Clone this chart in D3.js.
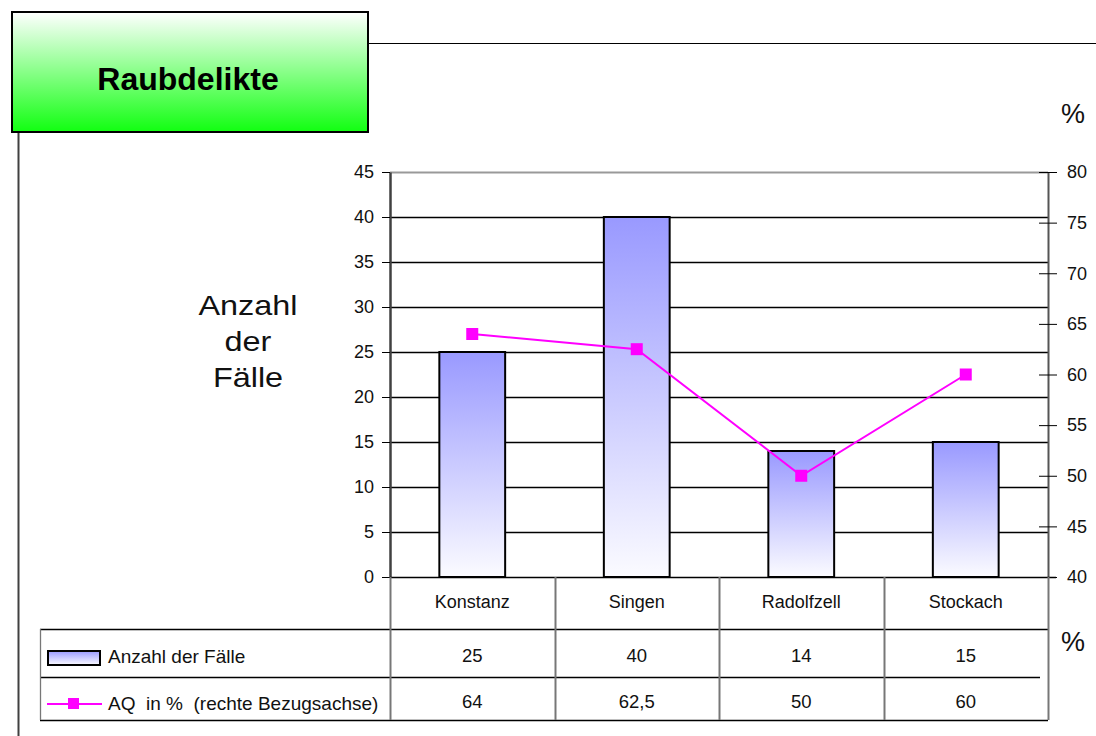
<!DOCTYPE html>
<html>
<head>
<meta charset="utf-8">
<script src="https://cdn.jsdelivr.net/npm/d3@7"></script>
<style>
  body { margin: 0; background: #fff; }
  svg text { font-family: "Liberation Sans", Arial, sans-serif; }
</style>
</head>
<body>
<div class="chart"></div>
<script>
var categories = ["Konstanz", "Singen", "Radolfzell", "Stockach"];
var faelle = [25, 40, 14, 15];
var aq = [64, 62.5, 50, 60];
var aqLabels = ["64", "62,5", "50", "60"];
var leftTicks = [0, 5, 10, 15, 20, 25, 30, 35, 40, 45];
var rightTicks = [40, 45, 50, 55, 60, 65, 70, 75, 80];

var width = 1096, height = 736;
var plot = {left: 390, right: 1048, top: 172, bottom: 577};

var svg = d3.select(".chart").append("svg").attr("width", width).attr("height", height);

var defs = svg.append("defs");
var barGrad = defs.append("linearGradient").attr("id", "barGrad").attr("x1", 0).attr("y1", 0).attr("x2", 0).attr("y2", 1);
barGrad.append("stop").attr("offset", "0%").attr("stop-color", "#9999ff");
barGrad.append("stop").attr("offset", "100%").attr("stop-color", "#fbfbff");
var titleGrad = defs.append("linearGradient").attr("id", "titleGrad").attr("x1", 0).attr("y1", 0).attr("x2", 0).attr("y2", 1);
titleGrad.append("stop").attr("offset", "0%").attr("stop-color", "#ffffff");
titleGrad.append("stop").attr("offset", "100%").attr("stop-color", "#11ff11");

//scales
var x = d3.scaleBand().domain(categories).range([plot.left, plot.right]).padding(0);
var yL = d3.scaleLinear().domain([0, 45]).range([plot.bottom, plot.top]);
var yR = d3.scaleLinear().domain([40, 80]).range([plot.bottom, plot.top]);

//frame lines (title line and left vertical)
svg.append("line").attr("x1", 368).attr("x2", width).attr("y1", 43.5).attr("y2", 43.5).attr("stroke", "#000");
svg.append("line").attr("x1", 18.5).attr("x2", 18.5).attr("y1", 132).attr("y2", height).attr("stroke", "#404040").attr("stroke-width", 2);

//title box
svg.append("rect").attr("x", 12).attr("y", 12).attr("width", 356).attr("height", 120)
  .attr("fill", "url(#titleGrad)").attr("stroke", "#000").attr("stroke-width", 2);
svg.append("text").attr("x", 188).attr("y", 90).attr("text-anchor", "middle")
  .style("font-weight", "bold").style("font-size", "32px")
  .text("Raubdelikte");

//gridlines
svg.append("g").selectAll("line").data(leftTicks.filter(function(d){ return d > 0; })).enter().append("line")
  .attr("x1", plot.left).attr("x2", plot.right)
  .attr("y1", function(d){ return Math.round(yL(d)) + 0.5; }).attr("y2", function(d){ return Math.round(yL(d)) + 0.5; })
  .attr("stroke", function(d){ return d == 45 ? "#999" : "#000"; }).attr("stroke-width", function(d){ return d == 45 ? 2 : 1.3; });

//bars
var barW = x.bandwidth() * 0.4;
svg.append("g").selectAll("rect").data(faelle).enter().append("rect")
  .attr("x", function(d, i){ return x(categories[i]) + (x.bandwidth() - barW) / 2; })
  .attr("y", function(d){ return yL(d); })
  .attr("width", barW)
  .attr("height", function(d){ return yL(0) - yL(d); })
  .attr("fill", "url(#barGrad)").attr("stroke", "#000").attr("stroke-width", 2);

//left axis
var leftAxis = d3.axisLeft(yL).tickValues(leftTicks).tickSizeInner(8).tickSizeOuter(0).tickPadding(8);
var gL = svg.append("g").attr("transform", "translate(" + plot.left + ",0)").call(leftAxis);
gL.select(".domain").attr("stroke", "#404040").attr("stroke-width", 2.5);
gL.selectAll("text").style("font-size", "18px").attr("fill", "#111");

//right axis
var rightAxis = d3.axisRight(yR).tickValues(rightTicks).tickSizeInner(9).tickSizeOuter(0).tickPadding(10);
var gR = svg.append("g").attr("transform", "translate(" + plot.right + ",0)").call(rightAxis);
gR.select(".domain").attr("stroke", "#555").attr("stroke-width", 2);
gR.selectAll(".tick line").attr("x1", -9);
gR.selectAll("text").style("font-size", "18px").attr("fill", "#111");

//baseline
svg.append("line").attr("x1", plot.left).attr("x2", plot.right + 8).attr("y1", plot.bottom + 0.5).attr("y2", plot.bottom + 0.5)
  .attr("stroke", "#000").attr("stroke-width", 1.5);

//AQ line
var line = d3.line()
  .x(function(d, i){ return x(categories[i]) + x.bandwidth() / 2; })
  .y(function(d){ return yR(d); });
svg.append("path").attr("d", line(aq)).attr("fill", "none").attr("stroke", "#ff00ff").attr("stroke-width", 2);
svg.append("g").selectAll("rect").data(aq).enter().append("rect")
  .attr("x", function(d, i){ return x(categories[i]) + x.bandwidth() / 2 - 6; })
  .attr("y", function(d){ return yR(d) - 6; })
  .attr("width", 12).attr("height", 12).attr("fill", "#ff00ff");

//data table
var tbl = svg.append("g");
// horizontal lines
tbl.append("line").attr("x1", 40).attr("x2", plot.right).attr("y1", 629.5).attr("y2", 629.5).attr("stroke", "#000").attr("stroke-width", 1.3);
tbl.append("line").attr("x1", 40).attr("x2", 1040).attr("y1", 677.5).attr("y2", 677.5).attr("stroke", "#000").attr("stroke-width", 1.3);
tbl.append("line").attr("x1", 40).attr("x2", plot.right).attr("y1", 720.5).attr("y2", 720.5).attr("stroke", "#000").attr("stroke-width", 1.3);
// vertical lines
tbl.append("line").attr("x1", 40.5).attr("x2", 40.5).attr("y1", 629).attr("y2", 720).attr("stroke", "#777").attr("stroke-width", 1.3);
tbl.selectAll(".vline").data(categories.concat(["end"])).enter().append("line")
  .attr("x1", function(d, i){ return i < 4 ? Math.round(x(d)) + 0.5 : plot.right + 0.5; })
  .attr("x2", function(d, i){ return i < 4 ? Math.round(x(d)) + 0.5 : plot.right + 0.5; })
  .attr("y1", 577).attr("y2", 720)
  .attr("stroke", "#777").attr("stroke-width", 2);

// category labels and values
tbl.selectAll(".cat").data(categories).enter().append("text")
  .attr("x", function(d){ return x(d) + x.bandwidth() / 2; }).attr("y", 608)
  .attr("text-anchor", "middle").style("font-size", "18px").attr("fill", "#111").text(function(d){ return d; });
tbl.selectAll(".v1").data(faelle).enter().append("text")
  .attr("x", function(d, i){ return x(categories[i]) + x.bandwidth() / 2; }).attr("y", 662)
  .attr("text-anchor", "middle").style("font-size", "18.5px").attr("fill", "#111").text(function(d){ return d; });
tbl.selectAll(".v2").data(aqLabels).enter().append("text")
  .attr("x", function(d, i){ return x(categories[i]) + x.bandwidth() / 2; }).attr("y", 708)
  .attr("text-anchor", "middle").style("font-size", "18.5px").attr("fill", "#111").text(function(d){ return d; });

// legend keys
tbl.append("rect").attr("x", 48).attr("y", 651).attr("width", 52).attr("height", 14)
  .attr("fill", "url(#barGrad)").attr("stroke", "#000").attr("stroke-width", 2);
tbl.append("text").attr("x", 108).attr("y", 663).style("font-size", "19px").attr("fill", "#111").text("Anzahl der Fälle");
tbl.append("line").attr("x1", 47).attr("x2", 102).attr("y1", 704).attr("y2", 704).attr("stroke", "#ff00ff").attr("stroke-width", 2);
tbl.append("rect").attr("x", 68).attr("y", 698).attr("width", 11).attr("height", 11).attr("fill", "#ff00ff");
tbl.append("text").attr("x", 108).attr("y", 710).style("font-size", "19px").attr("fill", "#111")
  .attr("xml:space", "preserve").style("white-space", "pre").text("AQ  in %  (rechte Bezugsachse)");

// axis titles
["Anzahl", "der", "Fälle"].forEach(function(t, i){
  svg.append("text").attr("transform", "translate(248," + (315 + i * 36) + ") scale(1.2,1)")
    .attr("text-anchor", "middle").style("font-size", "27px").attr("fill", "#111").text(t);
});
svg.append("text").attr("x", 1073).attr("y", 123).attr("text-anchor", "middle")
  .style("font-size", "27px").attr("fill", "#111").text("%");
svg.append("text").attr("x", 1073).attr("y", 651).attr("text-anchor", "middle")
  .style("font-size", "27px").attr("fill", "#111").text("%");
</script>
</body>
</html>
